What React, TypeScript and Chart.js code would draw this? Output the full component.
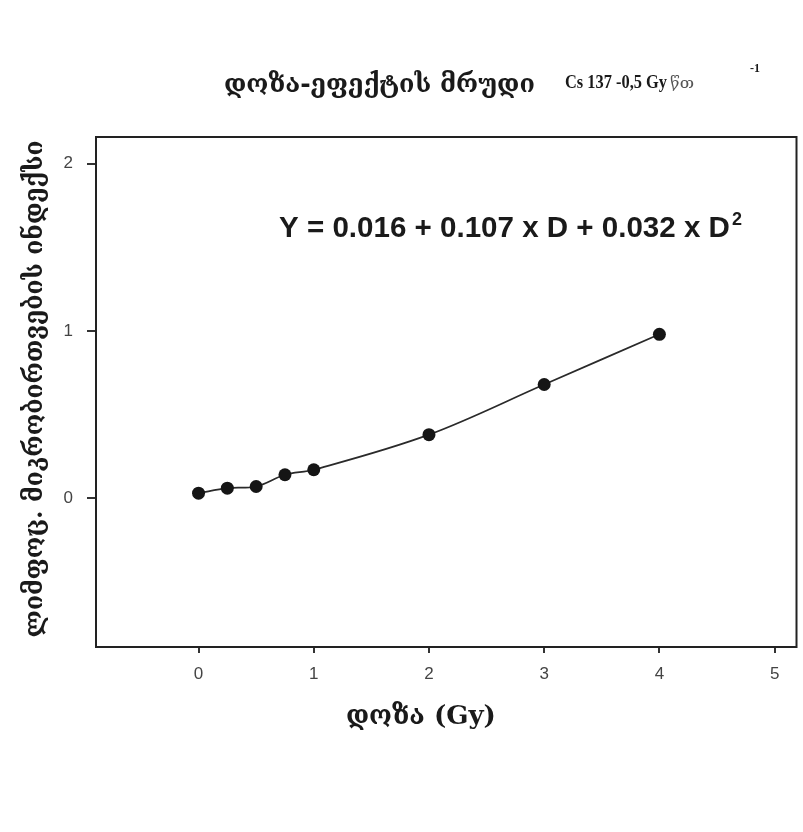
import React, { useEffect, useRef } from "react";
import { Chart, registerables } from "chart.js";

Chart.register(...registerables);

const doses = [0, 0.25, 0.5, 0.75, 1, 2, 3, 4];
const indexValues = [0.03, 0.06, 0.07, 0.14, 0.17, 0.38, 0.68, 0.98];
const xTickValues = [0, 1, 2, 3, 4, 5];
const yTickValues = [0, 1, 2];

const titleGeo = "დოზა-ეფექტის მრუდი";
const titleIso = "Cs 137 -0,5 Gy";
const titleUnit = "წთ";
const titleSup = "-1";
const equationText = "Y = 0.016 + 0.107 x D + 0.032 x D";
const equationSup = "2";
const yTitle = "ლიმფოც. მიკრობირთვების ინდექსი";
const xTitle = "დოზა (Gy)";

function fitSize(ctx: CanvasRenderingContext2D, text: string, weight: string, family: string, width: number) {
  ctx.font = `${weight} 100px ${family}`;
  const w = ctx.measureText(text).width;
  return (100 * width) / w;
}

function drawSqueezed(ctx: CanvasRenderingContext2D, text: string, font: string, x: number, y: number, width: number) {
  ctx.save();
  ctx.font = font;
  const w = ctx.measureText(text).width;
  ctx.translate(x, y);
  ctx.scale(width / w, 1);
  ctx.textAlign = "left";
  ctx.fillText(text, 0, 0);
  ctx.restore();
}

const textPlugin = {
  id: "texts",
  beforeDraw(chart: any) {
    const ctx = chart.ctx;
    ctx.save();
    ctx.fillStyle = "#ffffff";
    ctx.fillRect(0, 0, chart.width, chart.height);
    ctx.restore();
  },
  afterDraw(chart: any) {
    const ctx: CanvasRenderingContext2D = chart.ctx;
    const ca = chart.chartArea;
    ctx.save();
    // frame
    ctx.strokeStyle = "#222";
    ctx.lineWidth = 2;
    ctx.strokeRect(ca.left, ca.top, ca.right - ca.left, ca.bottom - ca.top);

    const serif = '"DejaVu Serif", "Liberation Serif", serif';
    const tserif = '"Liberation Serif", "DejaVu Serif", serif';
    const sans = '"Liberation Sans", Arial, sans-serif';
    ctx.fillStyle = "#1a1a1a";
    ctx.textBaseline = "alphabetic";
    ctx.textAlign = "left";

    // title
    let s = fitSize(ctx, titleGeo, "bold", serif, 311);
    ctx.font = `bold ${s}px ${serif}`;
    ctx.fillText(titleGeo, 224, 92);
    drawSqueezed(ctx, titleIso, `bold 18px ${tserif}`, 565, 88, 102);
    ctx.fillStyle = "#555";
    drawSqueezed(ctx, titleUnit, `normal 15px ${serif}`, 670, 88, 24);
    ctx.fillStyle = "#1a1a1a";
    ctx.font = `bold 12px ${tserif}`;
    ctx.fillText(titleSup, 750, 72);

    // equation
    s = fitSize(ctx, equationText, "bold", sans, 451);
    ctx.font = `bold ${s}px ${sans}`;
    ctx.fillText(equationText, 279, 237);
    const ew = ctx.measureText(equationText).width;
    ctx.font = `bold ${Math.round(s * 0.6)}px ${sans}`;
    ctx.fillText(equationSup, 279 + ew + 2, 225);

    // x title
    s = fitSize(ctx, xTitle, "bold", serif, 150);
    ctx.font = `bold ${s}px ${serif}`;
    ctx.fillText(xTitle, 346, 724);

    // y title
    s = fitSize(ctx, yTitle, "bold", serif, 497);
    ctx.font = `bold ${s}px ${serif}`;
    ctx.translate(36, 389);
    ctx.rotate(-Math.PI / 2);
    ctx.textAlign = "center";
    ctx.textBaseline = "middle";
    ctx.fillText(yTitle, 0, 0);
    ctx.restore();
  },
};

export default function App() {
  const ref = useRef<HTMLCanvasElement | null>(null);
  useEffect(() => {
    if (!ref.current) return;
    const chart = new Chart(ref.current, {
      type: "line",
      data: {
        datasets: [
          {
            data: doses.map((d, i) => ({ x: d, y: indexValues[i] })),
            borderColor: "#2a2a2a",
            borderWidth: 1.7,
            backgroundColor: "#151515",
            pointBackgroundColor: "#151515",
            pointBorderColor: "#151515",
            pointRadius: 6.5,
            pointBorderWidth: 0,
            tension: 0.35,
            fill: false,
          },
        ],
      },
      plugins: [textPlugin],
      options: {
        animation: false,
        responsive: false,
        devicePixelRatio: 1,
        layout: { padding: { left: 0, right: 6, top: 137, bottom: 0 } },
        plugins: { legend: { display: false }, tooltip: { enabled: false }, title: { display: false } },
        scales: {
          x: {
            type: "linear",
            min: -0.89,
            max: 5.19,
            afterBuildTicks: (axis: any) => {
              axis.ticks = xTickValues.map((v) => ({ value: v }));
            },
            afterFit: (scale: any) => {
              scale.height = 185;
            },
            border: { display: false },
            grid: { drawOnChartArea: false, drawTicks: true, tickLength: 6, color: "#333", lineWidth: 2 },
            ticks: {
              color: "#444",
              padding: 11,
              font: { family: '"Liberation Sans", Arial, sans-serif', size: 17 },
              callback: (v: any) => String(v),
            },
          },
          y: {
            type: "linear",
            min: -0.89,
            max: 2.16,
            afterBuildTicks: (axis: any) => {
              axis.ticks = yTickValues.map((v) => ({ value: v }));
            },
            afterFit: (scale: any) => {
              scale.width = 96;
            },
            border: { display: false },
            grid: { drawOnChartArea: false, drawTicks: true, tickLength: 9, color: "#333", lineWidth: 2 },
            ticks: {
              color: "#444",
              padding: 14,
              font: { family: '"Liberation Sans", Arial, sans-serif', size: 17 },
              callback: (v: any) => String(v),
            },
          },
        },
      },
    } as any);
    return () => chart.destroy();
  }, []);
  return (
    <div style={{ position: "absolute", left: 0, top: 0, width: 803, height: 832, background: "#fff" }}>
      <canvas ref={ref} width={803} height={832} style={{ display: "block", width: 803, height: 832 }} />
    </div>
  );
}
